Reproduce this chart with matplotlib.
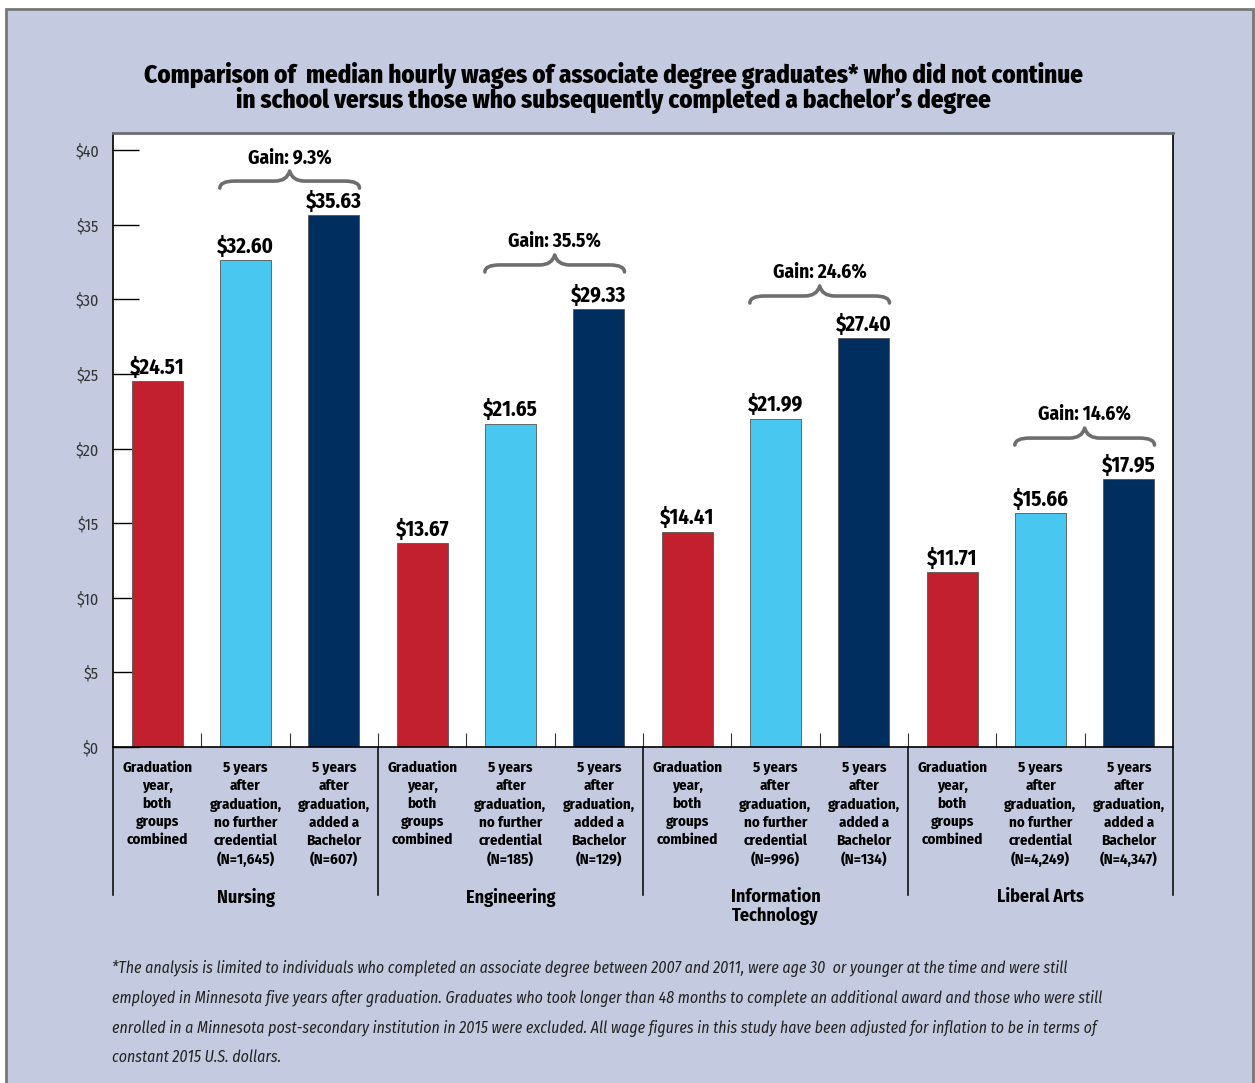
import matplotlib.pyplot as plt
from matplotlib import font_manager
from matplotlib.patches import Rectangle, PathPatch
from matplotlib.path import Path
import matplotlib.transforms as mtransforms

# pick a condensed sans family that is available
avail = {f.name for f in font_manager.fontManager.ttflist}
base = 'DejaVu Sans'
for c in ['Fira Sans Condensed', 'PT Sans Narrow', 'Roboto Condensed',
          'Liberation Sans Narrow', 'Open Sans Condensed']:
    if c in avail:
        base = c
        break
plt.rcParams['font.family'] = [base, 'DejaVu Sans']
plt.rcParams['font.stretch'] = 'condensed'

groups = ['Nursing', 'Engineering', 'Information\nTechnology', 'Liberal Arts']
grad_year = [24.51, 13.67, 14.41, 11.71]
no_further = [32.60, 21.65, 21.99, 15.66]
added_bachelor = [35.63, 29.33, 27.40, 17.95]
n_no_further = ['1,645', '185', '996', '4,249']
n_bachelor = ['607', '129', '134', '4,347']
gains = ['9.3%', '35.5%', '24.6%', '14.6%']
yticks = [0, 5, 10, 15, 20, 25, 30, 35, 40]

RED = '#C3202F'
CYAN = '#48C8F0'
NAVY = '#002F5F'
PANEL = '#C4CADF'
BRACE = '#6E6E6E'

fig = plt.figure(figsize=(12.55, 10.83), dpi=100)
fig.patch.set_facecolor('white')
fig.patches.append(Rectangle((6 / 1255, -0.01), 1247 / 1255, 1.01 - 9 / 1083,
                             transform=fig.transFigure, facecolor=PANEL,
                             edgecolor='#777777', linewidth=2, zorder=-1))

ax = fig.add_axes([113 / 1255, 1 - 747 / 1083, 1060 / 1255, 614 / 1083])
ax.set_facecolor('white')

# three bars per group, laid out left to right
w = 0.58
for g in range(len(groups)):
    vals = [grad_year[g], no_further[g], added_bachelor[g]]
    cols = [RED, CYAN, NAVY]
    for k in range(3):
        x = g * 3 + k
        ax.bar(x, vals[k], width=w, color=cols[k], edgecolor='#555555', linewidth=0.6, zorder=2)
        ax.text(x, vals[k] + 0.2, '$%.2f' % vals[k], ha='center', va='bottom',
                fontsize=15, fontweight='bold', color='black')

ax.set_xlim(-0.5, 11.5)
ax.set_ylim(0, 41.14)
ax.set_yticks(yticks)
ax.set_yticklabels(['$%d' % t for t in yticks], fontsize=11.5, color='#333333')
ax.tick_params(axis='y', direction='in', length=19, width=1, pad=10, color='black')
ax.set_xticks([i + 0.5 for i in range(11)])
ax.set_xticklabels([])
ax.tick_params(axis='x', direction='in', length=10, width=0.8, color='#333333')
for s in ['left', 'bottom', 'right']:
    ax.spines[s].set_color('black')
    ax.spines[s].set_linewidth(1.2)
ax.spines['top'].set_color('#6B6E78')
ax.spines['top'].set_linewidth(2)

# group separators below the axis
trans = mtransforms.blended_transform_factory(ax.transData, ax.transAxes)
for xb in [-0.5, 2.5, 5.5, 8.5, 11.5]:
    ax.plot([xb, xb], [0, -148 / 614], transform=trans, color='black',
            linewidth=1.1, clip_on=False)

# category labels
for g in range(len(groups)):
    labels = ['Graduation\nyear,\nboth\ngroups\ncombined',
              '5 years\nafter\ngraduation,\nno further\ncredential\n(N=%s)' % n_no_further[g],
              '5 years\nafter\ngraduation,\nadded a\nBachelor\n(N=%s)' % n_bachelor[g]]
    for k in range(3):
        ax.text(g * 3 + k, -14 / 614, labels[k], transform=trans, ha='center', va='top',
                fontsize=10.8, fontweight='bold', linespacing=1.34)
    ax.text(g * 3 + 1, -141 / 614, groups[g], transform=trans, ha='center', va='top',
            fontsize=13, fontweight='bold', linespacing=1.1)

# gain braces over the last two bars of each group
px = 41.14 / 614
brace_base = [37.45, 31.83, 29.75, 20.23]
for g in range(len(groups)):
    x0 = g * 3 + 1 - w / 2
    x1 = g * 3 + 2 + w / 2
    xm = (x0 + x1) / 2
    b = brace_base[g]
    h = b + 7 * px
    p = b + 17 * px
    r = 0.17
    verts = [(x0, b), (x0, h), (x0 + r, h), (xm - r, h), (xm - 0.03, h), (xm, p),
             (xm + 0.03, h), (xm + r, h), (x1 - r, h), (x1, h), (x1, b)]
    codes = [Path.MOVETO, Path.CURVE3, Path.CURVE3, Path.LINETO, Path.CURVE3, Path.CURVE3,
             Path.CURVE3, Path.CURVE3, Path.LINETO, Path.CURVE3, Path.CURVE3]
    ax.add_patch(PathPatch(Path(verts, codes), facecolor='none', edgecolor=BRACE,
                           linewidth=2.6, capstyle='round', joinstyle='round', clip_on=False))
    ax.text(xm, p + 4 * px, 'Gain: ' + gains[g], ha='center', va='bottom',
            fontsize=14, fontweight='bold')

fig.text(0.489, 0.919,
         'Comparison of  median hourly wages of associate degree graduates* who did not continue\n'
         'in school versus those who subsequently completed a bachelor\u2019s degree',
         ha='center', va='center', fontsize=18, fontweight='heavy', linespacing=0.9)

note = ('*The analysis is limited to individuals who completed an associate degree between 2007 and 2011, were age 30  or younger at the time and were still\n'
        'employed in Minnesota five years after graduation. Graduates who took longer than 48 months to complete an additional award and those who were still\n'
        'enrolled in a Minnesota post-secondary institution in 2015 were excluded. All wage figures in this study have been adjusted for inflation to be in terms of\n'
        'constant 2015 U.S. dollars.')
fig.text(112 / 1255, 1 - 960 / 1083, note, ha='left', va='top', fontsize=11.4,
         style='italic', color='#222222', linespacing=2.0)

fig.savefig('out.png', dpi=100, facecolor=fig.get_facecolor())
